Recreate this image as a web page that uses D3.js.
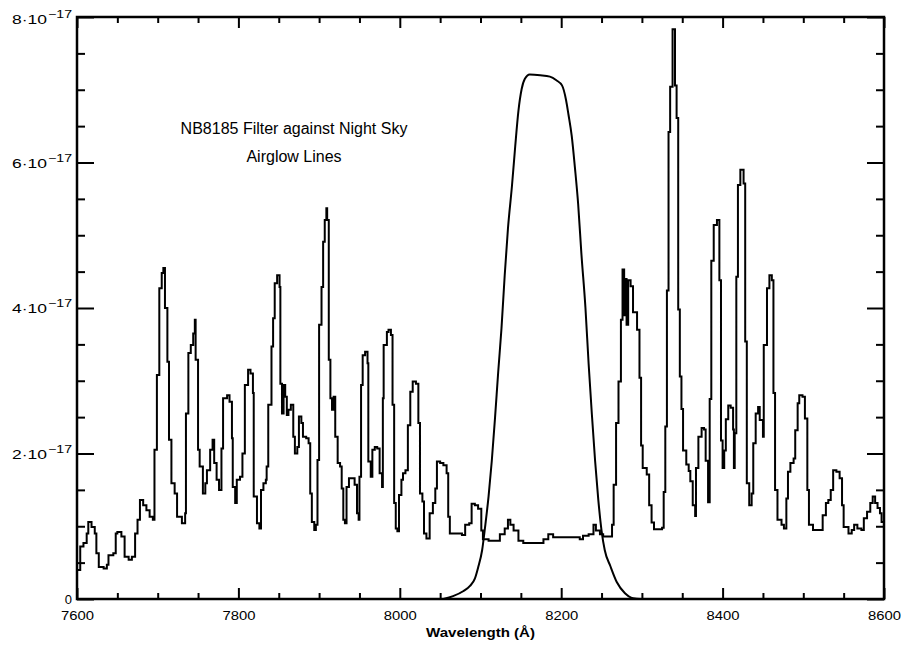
<!DOCTYPE html>
<html>
<head>
<meta charset="utf-8">
<script src="https://cdn.jsdelivr.net/npm/d3@7"></script>
<style>
  html, body { margin: 0; padding: 0; background: #fff; }
  svg { display: block; }
  text { font-family: "Liberation Sans", Arial, Helvetica, sans-serif; fill: #000; }
</style>
</head>
<body>
<script>
// Night-sky airglow spectrum (flux in units of 1e-17), stepped histogram
const skyWave = [
  7600,7604,7608,7612,7614,7618,7622,7624,7627,7633,7637,7639,7645,7648,7650,7655,7659,7664,7668,7672,
  7675,7678,7682,7686,7690,7694,7696,7699,7702,7705,7707,7709,7712,7714,7717,7721,7724,7730,7734,7735,
  7738,7741,7744,7746,7747,7750,7752,7756,7759,7761,7765,7768,7770,7773,7776,7779,7781,7786,7789,7792,
  7793,7796,7798,7802,7805,7808,7812,7815,7818,7819,7823,7826,7828,7831,7834,7835,7837,7841,7843,7845,
  7848,7851,7852,7854,7856,7858,7860,7862,7865,7868,7870,7873,7875,7878,7880,7884,7887,7889,7891,7894,
  7896,7898,7900,7903,7905,7907,7909,7910,7912,7914,7916,7918,7920,7923,7926,7928,7930,7932,7934,7937,
  7942,7944,7947,7949,7950,7952,7954,7957,7960,7961,7964,7966,7969,7972,7975,7978,7979,7980,7984,7986,
  7989,7991,7993,7995,7997,7999,8002,8004,8007,8010,8013,8016,8020,8023,8025,8028,8030,8033,8037,8041,
  8044,8046,8050,8054,8058,8060,8062,8077,8081,8086,8089,8093,8097,8101,8103,8110,8121,8124,8130,8134,
  8137,8141,8147,8153,8172,8178,8184,8190,8223,8227,8234,8240,8243,8248,8252,8260,8263,8265,8268,8271,
  8274,8276,8278,8279,8281,8283,8286,8289,8294,8297,8299,8301,8306,8309,8312,8315,8325,8327,8329,8331,
  8333,8335,8338,8341,8343,8345,8347,8349,8351,8355,8358,8360,8363,8366,8367,8370,8374,8377,8379,8382,
  8384,8386,8389,8393,8396,8398,8400,8402,8404,8407,8410,8413,8414,8415,8417,8419,8422,8426,8428,8430,
  8433,8436,8438,8441,8444,8446,8450,8451,8455,8458,8461,8463,8465,8468,8473,8476,8479,8481,8484,8488,
  8490,8493,8495,8499,8502,8505,8507,8512,8521,8524,8528,8531,8534,8537,8541,8545,8548,8550,8556,8560,
  8563,8567,8572,8575,8579,8583,8586,8589,8592,8595,8597,8600
];
const skyFlux = [
  0.40,0.72,0.77,0.90,1.06,0.99,0.90,0.63,0.44,0.42,0.47,0.60,0.63,0.90,0.92,0.86,0.58,0.54,0.58,0.90,
  1.09,1.36,1.29,1.22,1.13,1.09,2.05,3.08,4.27,4.48,4.55,4.00,3.26,2.19,1.59,1.45,1.13,1.04,1.18,2.55,
  3.38,3.49,3.65,3.84,3.29,2.05,1.82,1.45,1.59,1.77,2.05,2.19,1.87,1.64,1.50,2.07,2.76,2.80,2.71,2.21,
  1.54,1.32,1.64,1.68,2.00,2.94,3.15,3.10,2.83,1.41,1.04,0.97,1.50,1.59,1.64,1.82,2.67,3.47,3.86,4.34,
  4.45,4.29,2.96,2.55,2.94,2.78,2.53,2.60,2.67,2.23,2.00,2.09,2.51,2.42,2.23,2.21,2.14,1.45,1.06,0.95,
  1.02,1.91,3.77,4.29,4.91,5.21,5.37,5.21,3.29,2.76,2.60,2.78,2.23,1.87,1.82,1.52,1.09,1.04,1.54,1.66,
  1.66,1.57,1.18,1.09,1.68,2.94,3.35,3.40,3.24,1.89,1.68,2.05,2.09,2.07,1.73,1.54,2.76,3.49,3.67,3.70,
  3.63,2.67,1.32,0.97,0.93,1.43,1.64,1.73,1.77,2.39,2.85,2.99,2.96,2.42,1.45,1.34,0.90,0.83,1.18,1.32,
  1.52,1.89,1.87,1.84,1.73,1.13,0.90,0.88,1.02,1.04,1.31,1.29,1.24,0.94,0.82,0.80,0.80,0.89,0.97,1.09,
  1.02,0.94,0.80,0.77,0.77,0.82,0.89,0.85,0.82,0.87,0.89,1.02,0.94,0.89,0.86,0.86,1.02,1.57,2.42,2.99,
  3.84,4.53,3.90,4.40,3.77,4.38,4.30,3.94,3.70,3.04,2.11,1.80,1.71,1.29,1.05,0.96,0.98,1.47,2.37,4.24,
  6.42,7.04,7.83,7.06,6.61,3.98,3.06,2.61,2.04,1.85,1.76,1.62,1.29,1.14,1.80,2.23,2.35,2.33,1.90,1.33,
  2.75,4.65,5.14,5.21,4.38,2.18,1.80,2.04,2.47,2.66,2.63,2.33,1.80,2.28,4.43,5.69,5.90,5.71,3.54,1.59,
  1.29,1.45,2.14,2.55,2.64,2.46,2.23,3.49,4.27,4.45,4.38,2.83,1.50,1.09,1.02,0.97,1.38,1.75,1.87,1.93,
  2.32,2.69,2.80,2.78,2.48,1.50,1.02,0.95,0.95,1.15,1.32,1.36,1.50,1.77,1.75,1.66,1.29,0.99,0.90,0.95,
  1.02,0.97,0.95,1.11,1.20,1.32,1.41,1.32,1.25,1.18,1.06,1.00
];

// NB8185 filter transmission, scaled onto the same flux axis
const filterWave = [
  8054,8066,8079,8087,8093,8097,8102,8106,8110,8114,8118,8122,8126,8130,8134,8139,8143,8147,8151,8155,
  8161,8174,8186,8194,8201,8206,8209,8213,8217,8221,8225,8230,8234,8238,8242,8246,8250,8254,8261,8269,
  8279,8289,8298,8310
];
const filterTrans = [
  0.00,0.04,0.11,0.18,0.28,0.43,0.67,1.02,1.41,1.90,2.49,3.13,3.72,4.45,5.09,5.68,6.22,6.71,7.01,7.15,
  7.21,7.20,7.18,7.13,7.06,6.86,6.66,6.37,5.93,5.43,4.75,4.01,3.23,2.54,1.90,1.36,0.94,0.67,0.45,0.23,
  0.08,0.01,0.00,0.00
];

// Axis ticks
const xMajor = [7600, 7800, 8000, 8200, 8400, 8600];
const xMinor = [7650, 7700, 7750, 7850, 7900, 7950, 8050, 8100, 8150, 8250, 8300, 8350, 8450, 8500, 8550];
const yMajor = [0, 2, 4, 6, 8];
const yMinor = [0.5, 1, 1.5, 2.5, 3, 3.5, 4.5, 5, 5.5, 6.5, 7, 7.5];
const yExponent = "17";

const titleLines = ["NB8185 Filter against Night Sky", "Airglow Lines"];
const xTitle = "Wavelength (Å)";

const W = 901, H = 645;
const box = { left: 77, right: 884, top: 17, bottom: 599 };

const x = d3.scaleLinear().domain([7600, 8600]).range([box.left, box.right]);
const y = d3.scaleLinear().domain([0, 8]).range([box.bottom, box.top]);

const svg = d3.select("body").append("svg").attr("width", W).attr("height", H);

svg.append("defs").append("clipPath").attr("id", "plotClip")
  .append("rect")
  .attr("x", box.left).attr("y", box.top - 2)
  .attr("width", box.right - box.left).attr("height", box.bottom - box.top + 2);

// Axes (ticks point inward on all four sides)
function styleAxis(g) {
  g.select(".domain").remove();
  g.selectAll(".tick line").attr("stroke", "#000").attr("stroke-width", 2);
}

const xFmt = d => String(d);

svg.append("g").attr("transform", `translate(0,${box.bottom})`)
  .call(d3.axisBottom(x).tickValues(xMajor).tickSize(-11).tickPadding(12).tickFormat(xFmt))
  .call(styleAxis)
  .call(g => g.selectAll(".tick text")
    .attr("font-size", 13)
    .attr("font-family", "Liberation Sans, Arial, sans-serif")
    .attr("textLength", 33).attr("lengthAdjust", "spacingAndGlyphs"));
svg.append("g").attr("transform", `translate(0,${box.bottom})`)
  .call(d3.axisBottom(x).tickValues(xMinor).tickSize(-6).tickFormat(""))
  .call(styleAxis);

svg.append("g").attr("transform", `translate(0,${box.top})`)
  .call(d3.axisTop(x).tickValues(xMajor).tickSize(-11).tickFormat(""))
  .call(styleAxis);
svg.append("g").attr("transform", `translate(0,${box.top})`)
  .call(d3.axisTop(x).tickValues(xMinor).tickSize(-6).tickFormat(""))
  .call(styleAxis);

const yLeft = svg.append("g").attr("transform", `translate(${box.left},0)`)
  .call(d3.axisLeft(y).tickValues(yMajor).tickSize(-17).tickFormat(""))
  .call(styleAxis);
svg.append("g").attr("transform", `translate(${box.left},0)`)
  .call(d3.axisLeft(y).tickValues(yMinor).tickSize(-8).tickFormat(""))
  .call(styleAxis);

svg.append("g").attr("transform", `translate(${box.right},0)`)
  .call(d3.axisRight(y).tickValues(yMajor).tickSize(-17).tickFormat(""))
  .call(styleAxis);
svg.append("g").attr("transform", `translate(${box.right},0)`)
  .call(d3.axisRight(y).tickValues(yMinor).tickSize(-8).tickFormat(""))
  .call(styleAxis);

// Y tick labels in "m·10^-17" form
yLeft.selectAll(".tick").each(function (d) {
  const t = d3.select(this);
  t.selectAll("text").remove();
  const shift = d === 8 ? 2 : 0;
  if (d === 0) {
    t.append("text").attr("x", -5).attr("y", 4.5)
      .attr("text-anchor", "end").attr("font-size", 13).text("0");
  } else {
    t.append("text").attr("x", -30).attr("y", 4.5 + shift)
      .attr("text-anchor", "end").attr("font-size", 13)
      .attr("textLength", 35).attr("lengthAdjust", "spacingAndGlyphs")
      .text(`${d}\u00b710`);
    t.append("text").attr("x", -29).attr("y", -1.5 + shift)
      .attr("text-anchor", "start").attr("font-size", 10.5)
      .attr("textLength", 24).attr("lengthAdjust", "spacingAndGlyphs")
      .text(`\u2212${yExponent}`);
  }
});

// Frame
svg.append("rect")
  .attr("x", box.left).attr("y", box.top)
  .attr("width", box.right - box.left).attr("height", box.bottom - box.top)
  .attr("fill", "none").attr("stroke", "#000").attr("stroke-width", 2.5);

const plot = svg.append("g").attr("clip-path", "url(#plotClip)");

// Sky spectrum as a step histogram
const sky = skyWave.map((w, i) => [w, skyFlux[i]]);
plot.append("path")
  .datum(sky)
  .attr("fill", "none").attr("stroke", "#000").attr("stroke-width", 2)
  .attr("stroke-linejoin", "miter")
  .attr("d", d3.line().x(d => x(d[0])).y(d => y(d[1])).curve(d3.curveStepAfter));

// Filter curve
const filt = filterWave.map((w, i) => [w, filterTrans[i]]);
plot.append("path")
  .datum(filt)
  .attr("fill", "none").attr("stroke", "#000").attr("stroke-width", 2)
  .attr("d", d3.line().x(d => x(d[0])).y(d => y(d[1])).curve(d3.curveMonotoneX));

// Annotation
svg.append("text").attr("x", 294).attr("y", 133.5)
  .attr("text-anchor", "middle").attr("font-size", 16).text(titleLines[0]);
svg.append("text").attr("x", 294).attr("y", 162)
  .attr("text-anchor", "middle").attr("font-size", 16).text(titleLines[1]);

// X-axis title
svg.append("text").attr("x", (box.left + box.right) / 2).attr("y", 637)
  .attr("text-anchor", "middle").attr("font-size", 13).attr("font-weight", "bold")
  .attr("textLength", 109).attr("lengthAdjust", "spacingAndGlyphs")
  .text(xTitle);
</script>
</body>
</html>
